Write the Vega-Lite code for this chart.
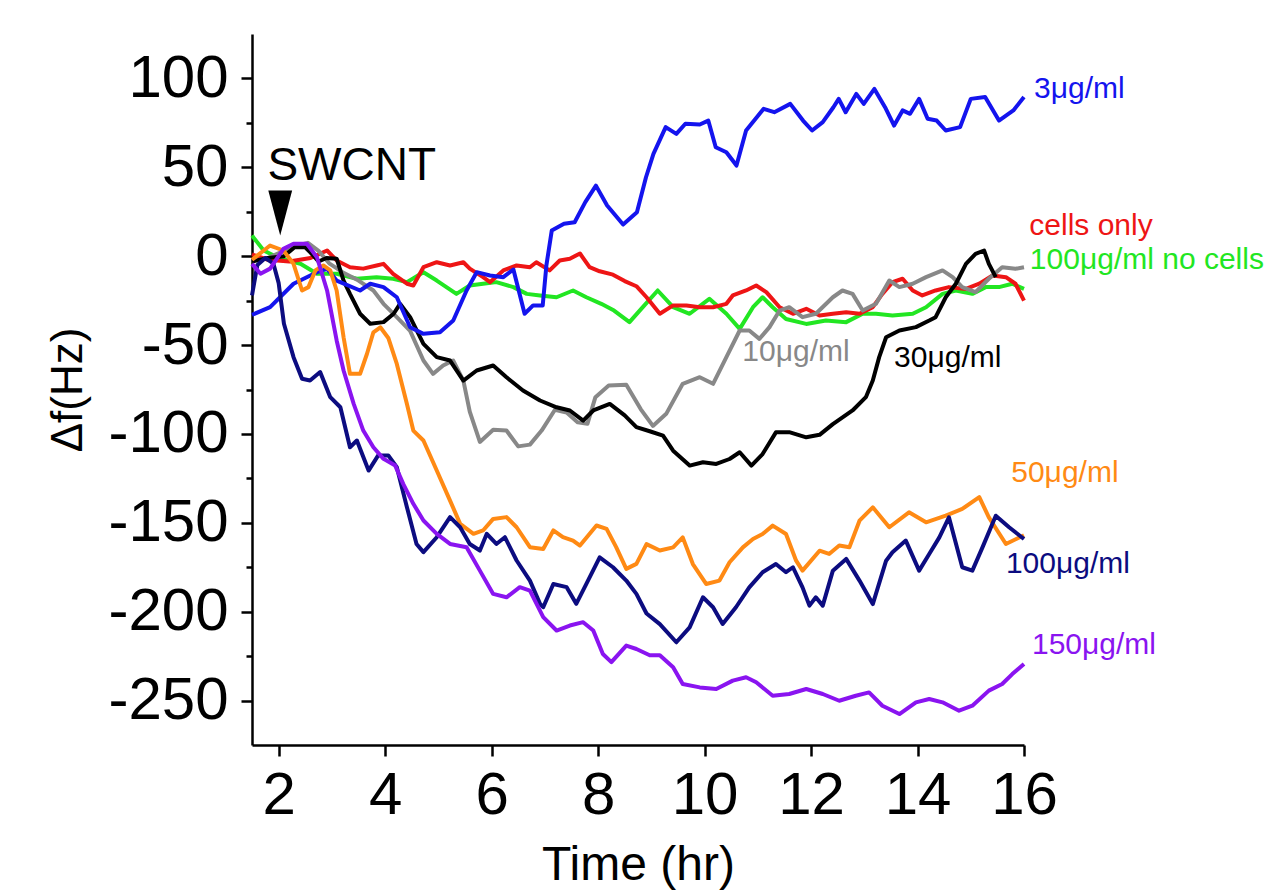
{
  "$schema": "https://vega.github.io/schema/vega-lite/v6.json",
  "width": 772,
  "height": 711,
  "autosize": {"type": "none"},
  "padding": {"left": 252, "top": 34, "right": 258, "bottom": 148},
  "background": "white",
  "config": {"view": {"stroke": null}, "font": "Liberation Sans"},
  "datasets": {
    "series": [
      {"s":"100μg/ml no cells","t":1.5,"v":11.6},{"s":"100μg/ml no cells","t":1.72,"v":3.2},{"s":"100μg/ml no cells","t":2.0,"v":-1},{"s":"100μg/ml no cells","t":2.41,"v":-4.3},{"s":"100μg/ml no cells","t":2.72,"v":-9.9},{"s":"100μg/ml no cells","t":3.09,"v":-9.9},{"s":"100μg/ml no cells","t":3.47,"v":-12.7},{"s":"100μg/ml no cells","t":3.84,"v":-11.8},{"s":"100μg/ml no cells","t":4.15,"v":-12.7},{"s":"100μg/ml no cells","t":4.41,"v":-14.6},{"s":"100μg/ml no cells","t":4.72,"v":-9},{"s":"100μg/ml no cells","t":4.97,"v":-13.7},{"s":"100μg/ml no cells","t":5.34,"v":-21.2},{"s":"100μg/ml no cells","t":5.59,"v":-16.5},{"s":"100μg/ml no cells","t":5.84,"v":-15.5},{"s":"100μg/ml no cells","t":6.09,"v":-14.6},{"s":"100μg/ml no cells","t":6.41,"v":-17.4},{"s":"100μg/ml no cells","t":6.66,"v":-21.2},{"s":"100μg/ml no cells","t":6.91,"v":-22.1},{"s":"100μg/ml no cells","t":7.22,"v":-23.1},{"s":"100μg/ml no cells","t":7.53,"v":-19.3},{"s":"100μg/ml no cells","t":7.78,"v":-23.1},{"s":"100μg/ml no cells","t":8.06,"v":-26.8},{"s":"100μg/ml no cells","t":8.3,"v":-30.6},{"s":"100μg/ml no cells","t":8.59,"v":-37.1},{"s":"100μg/ml no cells","t":8.84,"v":-28.7},{"s":"100μg/ml no cells","t":9.12,"v":-19.3},{"s":"100μg/ml no cells","t":9.41,"v":-28.7},{"s":"100μg/ml no cells","t":9.72,"v":-32.4},{"s":"100μg/ml no cells","t":10.09,"v":-24},{"s":"100μg/ml no cells","t":10.41,"v":-32.4},{"s":"100μg/ml no cells","t":10.66,"v":-40.9},{"s":"100μg/ml no cells","t":10.91,"v":-28.7},{"s":"100μg/ml no cells","t":11.09,"v":-23.1},{"s":"100μg/ml no cells","t":11.28,"v":-28.7},{"s":"100μg/ml no cells","t":11.53,"v":-35.3},{"s":"100μg/ml no cells","t":11.91,"v":-38.1},{"s":"100μg/ml no cells","t":12.28,"v":-36.2},{"s":"100μg/ml no cells","t":12.66,"v":-37.1},{"s":"100μg/ml no cells","t":12.97,"v":-32.4},{"s":"100μg/ml no cells","t":13.22,"v":-32.4},{"s":"100μg/ml no cells","t":13.53,"v":-33.4},{"s":"100μg/ml no cells","t":13.91,"v":-32.4},{"s":"100μg/ml no cells","t":14.16,"v":-28.7},{"s":"100μg/ml no cells","t":14.47,"v":-21.2},{"s":"100μg/ml no cells","t":14.72,"v":-19.3},{"s":"100μg/ml no cells","t":15.03,"v":-21.2},{"s":"100μg/ml no cells","t":15.28,"v":-17.4},{"s":"100μg/ml no cells","t":15.53,"v":-17.4},{"s":"100μg/ml no cells","t":15.78,"v":-15.5},{"s":"100μg/ml no cells","t":16.0,"v":-18.4},

      {"s":"cells only","t":1.5,"v":1},{"s":"cells only","t":1.8,"v":-2},{"s":"cells only","t":2.2,"v":-3},{"s":"cells only","t":2.6,"v":-1},{"s":"cells only","t":2.91,"v":3.2},{"s":"cells only","t":3.09,"v":-2.4},{"s":"cells only","t":3.34,"v":-6.2},{"s":"cells only","t":3.59,"v":-7},{"s":"cells only","t":3.84,"v":-5.2},{"s":"cells only","t":3.97,"v":-4.3},{"s":"cells only","t":4.15,"v":-9.9},{"s":"cells only","t":4.41,"v":-15.5},{"s":"cells only","t":4.53,"v":-16.5},{"s":"cells only","t":4.72,"v":-6.2},{"s":"cells only","t":4.97,"v":-3.4},{"s":"cells only","t":5.22,"v":-5.2},{"s":"cells only","t":5.47,"v":-3.4},{"s":"cells only","t":5.59,"v":-7},{"s":"cells only","t":5.84,"v":-11.8},{"s":"cells only","t":5.97,"v":-14.6},{"s":"cells only","t":6.22,"v":-8},{"s":"cells only","t":6.47,"v":-5.2},{"s":"cells only","t":6.72,"v":-6.2},{"s":"cells only","t":6.84,"v":-3.4},{"s":"cells only","t":7.09,"v":-8},{"s":"cells only","t":7.28,"v":-2.4},{"s":"cells only","t":7.47,"v":-1.4},{"s":"cells only","t":7.66,"v":1.5},{"s":"cells only","t":7.84,"v":-6.2},{"s":"cells only","t":8.03,"v":-8.5},{"s":"cells only","t":8.28,"v":-10.4},{"s":"cells only","t":8.5,"v":-14},{"s":"cells only","t":8.72,"v":-16.9},{"s":"cells only","t":8.91,"v":-23.1},{"s":"cells only","t":9.16,"v":-32.4},{"s":"cells only","t":9.41,"v":-27.7},{"s":"cells only","t":9.66,"v":-27.7},{"s":"cells only","t":9.91,"v":-28.7},{"s":"cells only","t":10.16,"v":-28.7},{"s":"cells only","t":10.41,"v":-26.8},{"s":"cells only","t":10.53,"v":-22.1},{"s":"cells only","t":10.78,"v":-19.3},{"s":"cells only","t":10.97,"v":-16.5},{"s":"cells only","t":11.16,"v":-20.2},{"s":"cells only","t":11.41,"v":-28.7},{"s":"cells only","t":11.66,"v":-32.4},{"s":"cells only","t":11.91,"v":-29.6},{"s":"cells only","t":12.16,"v":-33.4},{"s":"cells only","t":12.41,"v":-32.4},{"s":"cells only","t":12.66,"v":-31.5},{"s":"cells only","t":12.91,"v":-32.4},{"s":"cells only","t":13.16,"v":-28.7},{"s":"cells only","t":13.34,"v":-21.2},{"s":"cells only","t":13.53,"v":-14.6},{"s":"cells only","t":13.72,"v":-12.7},{"s":"cells only","t":13.91,"v":-19.3},{"s":"cells only","t":14.09,"v":-22.1},{"s":"cells only","t":14.34,"v":-19.3},{"s":"cells only","t":14.59,"v":-17.4},{"s":"cells only","t":14.91,"v":-18.4},{"s":"cells only","t":15.16,"v":-15.5},{"s":"cells only","t":15.41,"v":-10.9},{"s":"cells only","t":15.66,"v":-11.8},{"s":"cells only","t":15.84,"v":-15.5},{"s":"cells only","t":16.0,"v":-25},

      {"s":"10μg/ml","t":1.5,"v":-3},{"s":"10μg/ml","t":1.8,"v":-1},{"s":"10μg/ml","t":2.1,"v":3},{"s":"10μg/ml","t":2.35,"v":6},{"s":"10μg/ml","t":2.55,"v":7.5},{"s":"10μg/ml","t":2.75,"v":3},{"s":"10μg/ml","t":2.95,"v":-4},{"s":"10μg/ml","t":3.2,"v":-9},{"s":"10μg/ml","t":3.5,"v":-13.7},{"s":"10μg/ml","t":3.78,"v":-19.3},{"s":"10μg/ml","t":3.97,"v":-26.8},{"s":"10μg/ml","t":4.22,"v":-34.3},{"s":"10μg/ml","t":4.47,"v":-42},{"s":"10μg/ml","t":4.72,"v":-58.7},{"s":"10μg/ml","t":4.9,"v":-66.2},{"s":"10μg/ml","t":5.09,"v":-61.5},{"s":"10μg/ml","t":5.28,"v":-58.7},{"s":"10μg/ml","t":5.47,"v":-70},{"s":"10μg/ml","t":5.59,"v":-87.5},{"s":"10μg/ml","t":5.78,"v":-104.5},{"s":"10μg/ml","t":6.03,"v":-97.6},{"s":"10μg/ml","t":6.28,"v":-98.1},{"s":"10μg/ml","t":6.5,"v":-107},{"s":"10μg/ml","t":6.72,"v":-106},{"s":"10μg/ml","t":6.94,"v":-98.1},{"s":"10μg/ml","t":7.19,"v":-86.4},{"s":"10μg/ml","t":7.41,"v":-88},{"s":"10μg/ml","t":7.62,"v":-93.5},{"s":"10μg/ml","t":7.8,"v":-94.3},{"s":"10μg/ml","t":7.95,"v":-79.3},{"s":"10μg/ml","t":8.2,"v":-72.8},{"s":"10μg/ml","t":8.53,"v":-72.3},{"s":"10μg/ml","t":8.8,"v":-86},{"s":"10μg/ml","t":9.03,"v":-95.5},{"s":"10μg/ml","t":9.28,"v":-88.7},{"s":"10μg/ml","t":9.59,"v":-71.8},{"s":"10μg/ml","t":9.91,"v":-68.1},{"s":"10μg/ml","t":10.16,"v":-71.8},{"s":"10μg/ml","t":10.41,"v":-56.8},{"s":"10μg/ml","t":10.66,"v":-41.8},{"s":"10μg/ml","t":10.84,"v":-41.8},{"s":"10μg/ml","t":11.03,"v":-46.5},{"s":"10μg/ml","t":11.22,"v":-39.9},{"s":"10μg/ml","t":11.41,"v":-30.6},{"s":"10μg/ml","t":11.59,"v":-28.7},{"s":"10μg/ml","t":11.84,"v":-34.3},{"s":"10μg/ml","t":12.09,"v":-32.4},{"s":"10μg/ml","t":12.41,"v":-23.1},{"s":"10μg/ml","t":12.59,"v":-19.3},{"s":"10μg/ml","t":12.78,"v":-21.2},{"s":"10μg/ml","t":12.97,"v":-30.6},{"s":"10μg/ml","t":13.22,"v":-26.8},{"s":"10μg/ml","t":13.47,"v":-13.7},{"s":"10μg/ml","t":13.66,"v":-17.4},{"s":"10μg/ml","t":13.91,"v":-15.5},{"s":"10μg/ml","t":14.16,"v":-11.8},{"s":"10μg/ml","t":14.47,"v":-8},{"s":"10μg/ml","t":14.66,"v":-11.8},{"s":"10μg/ml","t":14.84,"v":-17.4},{"s":"10μg/ml","t":15.09,"v":-20.2},{"s":"10μg/ml","t":15.34,"v":-12.7},{"s":"10μg/ml","t":15.59,"v":-6.2},{"s":"10μg/ml","t":15.84,"v":-7.1},{"s":"10μg/ml","t":16.0,"v":-6.2},

      {"s":"30μg/ml","t":1.5,"v":-3},{"s":"30μg/ml","t":1.8,"v":-1},{"s":"30μg/ml","t":2.1,"v":0},{"s":"30μg/ml","t":2.3,"v":5},{"s":"30μg/ml","t":2.5,"v":5},{"s":"30μg/ml","t":2.6,"v":2},{"s":"30μg/ml","t":2.75,"v":-3},{"s":"30μg/ml","t":2.9,"v":-1},{"s":"30μg/ml","t":3.09,"v":-1.4},{"s":"30μg/ml","t":3.22,"v":-13.7},{"s":"30μg/ml","t":3.34,"v":-21.2},{"s":"30μg/ml","t":3.53,"v":-32.4},{"s":"30μg/ml","t":3.72,"v":-38},{"s":"30μg/ml","t":3.97,"v":-37.1},{"s":"30μg/ml","t":4.16,"v":-32.4},{"s":"30μg/ml","t":4.28,"v":-26.8},{"s":"30μg/ml","t":4.47,"v":-34.3},{"s":"30μg/ml","t":4.72,"v":-49.3},{"s":"30μg/ml","t":4.97,"v":-56.8},{"s":"30μg/ml","t":5.22,"v":-58.7},{"s":"30μg/ml","t":5.47,"v":-70},{"s":"30μg/ml","t":5.72,"v":-64.3},{"s":"30μg/ml","t":6.03,"v":-61.5},{"s":"30μg/ml","t":6.28,"v":-68.1},{"s":"30μg/ml","t":6.59,"v":-75.6},{"s":"30μg/ml","t":6.91,"v":-81.2},{"s":"30μg/ml","t":7.22,"v":-85},{"s":"30μg/ml","t":7.47,"v":-86.8},{"s":"30μg/ml","t":7.72,"v":-92.5},{"s":"30μg/ml","t":7.91,"v":-86.8},{"s":"30μg/ml","t":8.22,"v":-83.1},{"s":"30μg/ml","t":8.5,"v":-89.6},{"s":"30μg/ml","t":8.72,"v":-96.2},{"s":"30μg/ml","t":8.97,"v":-98.5},{"s":"30μg/ml","t":9.22,"v":-101},{"s":"30μg/ml","t":9.41,"v":-109.4},{"s":"30μg/ml","t":9.72,"v":-117.8},{"s":"30μg/ml","t":9.97,"v":-115.9},{"s":"30μg/ml","t":10.22,"v":-116.9},{"s":"30μg/ml","t":10.47,"v":-114.1},{"s":"30μg/ml","t":10.66,"v":-110.3},{"s":"30μg/ml","t":10.88,"v":-117.8},{"s":"30μg/ml","t":11.09,"v":-111.3},{"s":"30μg/ml","t":11.34,"v":-99.1},{"s":"30μg/ml","t":11.59,"v":-99},{"s":"30μg/ml","t":11.91,"v":-101.9},{"s":"30μg/ml","t":12.16,"v":-100.5},{"s":"30μg/ml","t":12.41,"v":-94.5},{"s":"30μg/ml","t":12.78,"v":-86.8},{"s":"30μg/ml","t":13.03,"v":-79.3},{"s":"30μg/ml","t":13.16,"v":-69.9},{"s":"30μg/ml","t":13.28,"v":-56.8},{"s":"30μg/ml","t":13.41,"v":-45.6},{"s":"30μg/ml","t":13.66,"v":-41.8},{"s":"30μg/ml","t":13.97,"v":-39.9},{"s":"30μg/ml","t":14.22,"v":-36.2},{"s":"30μg/ml","t":14.34,"v":-34.3},{"s":"30μg/ml","t":14.53,"v":-23.1},{"s":"30μg/ml","t":14.72,"v":-15.5},{"s":"30μg/ml","t":14.91,"v":-4.3},{"s":"30μg/ml","t":15.09,"v":1.3},{"s":"30μg/ml","t":15.25,"v":3.2},{"s":"30μg/ml","t":15.34,"v":-4.3},{"s":"30μg/ml","t":15.47,"v":-11.8},

      {"s":"3μg/ml","t":1.5,"v":-33},{"s":"3μg/ml","t":1.84,"v":-28.7},{"s":"3μg/ml","t":2.28,"v":-15.5},{"s":"3μg/ml","t":2.72,"v":-9},{"s":"3μg/ml","t":2.91,"v":-7.1},{"s":"3μg/ml","t":3.09,"v":-13.7},{"s":"3μg/ml","t":3.53,"v":-19.3},{"s":"3μg/ml","t":3.72,"v":-15.5},{"s":"3μg/ml","t":3.97,"v":-17.4},{"s":"3μg/ml","t":4.22,"v":-23.1},{"s":"3μg/ml","t":4.47,"v":-40},{"s":"3μg/ml","t":4.72,"v":-43.7},{"s":"3μg/ml","t":5.03,"v":-42.8},{"s":"3μg/ml","t":5.28,"v":-36.2},{"s":"3μg/ml","t":5.53,"v":-19.3},{"s":"3μg/ml","t":5.72,"v":-9},{"s":"3μg/ml","t":5.97,"v":-10.9},{"s":"3μg/ml","t":6.22,"v":-11.8},{"s":"3μg/ml","t":6.41,"v":-7.5},{"s":"3μg/ml","t":6.62,"v":-32.4},{"s":"3μg/ml","t":6.78,"v":-27.7},{"s":"3μg/ml","t":6.96,"v":-27.8},{"s":"3μg/ml","t":7.03,"v":-5},{"s":"3μg/ml","t":7.13,"v":14.4},{"s":"3μg/ml","t":7.36,"v":18.2},{"s":"3μg/ml","t":7.56,"v":19.1},{"s":"3μg/ml","t":7.76,"v":30.4},{"s":"3μg/ml","t":7.96,"v":39.7},{"s":"3μg/ml","t":8.17,"v":28.5},{"s":"3μg/ml","t":8.47,"v":17.8},{"s":"3μg/ml","t":8.73,"v":24.7},{"s":"3μg/ml","t":8.9,"v":44.4},{"s":"3μg/ml","t":9.04,"v":57.6},{"s":"3μg/ml","t":9.27,"v":72.6},{"s":"3μg/ml","t":9.47,"v":68.8},{"s":"3μg/ml","t":9.64,"v":74.5},{"s":"3μg/ml","t":9.91,"v":74.1},{"s":"3μg/ml","t":10.07,"v":76.3},{"s":"3μg/ml","t":10.21,"v":61.3},{"s":"3μg/ml","t":10.41,"v":58.5},{"s":"3μg/ml","t":10.6,"v":51},{"s":"3μg/ml","t":10.78,"v":70.7},{"s":"3μg/ml","t":11.11,"v":82.9},{"s":"3μg/ml","t":11.31,"v":81},{"s":"3μg/ml","t":11.61,"v":85.7},{"s":"3μg/ml","t":11.85,"v":76.3},{"s":"3μg/ml","t":12.02,"v":70.7},{"s":"3μg/ml","t":12.22,"v":75.4},{"s":"3μg/ml","t":12.42,"v":83.8},{"s":"3μg/ml","t":12.52,"v":88.5},{"s":"3μg/ml","t":12.65,"v":81},{"s":"3μg/ml","t":12.85,"v":91.3},{"s":"3μg/ml","t":12.99,"v":85.7},{"s":"3μg/ml","t":13.19,"v":94.1},{"s":"3μg/ml","t":13.39,"v":83.8},{"s":"3μg/ml","t":13.56,"v":73.5},{"s":"3μg/ml","t":13.72,"v":82},{"s":"3μg/ml","t":13.86,"v":80.1},{"s":"3μg/ml","t":14.03,"v":88.5},{"s":"3μg/ml","t":14.19,"v":77.3},{"s":"3μg/ml","t":14.36,"v":76.3},{"s":"3μg/ml","t":14.53,"v":70.7},{"s":"3μg/ml","t":14.8,"v":72.6},{"s":"3μg/ml","t":15.0,"v":88.5},{"s":"3μg/ml","t":15.27,"v":89.5},{"s":"3μg/ml","t":15.53,"v":76.3},{"s":"3μg/ml","t":15.8,"v":82},{"s":"3μg/ml","t":16.0,"v":89.5},

      {"s":"50μg/ml","t":1.5,"v":-2},{"s":"50μg/ml","t":1.72,"v":3.2},{"s":"50μg/ml","t":1.84,"v":6},{"s":"50μg/ml","t":2.09,"v":3.2},{"s":"50μg/ml","t":2.28,"v":-4.3},{"s":"50μg/ml","t":2.44,"v":-19.3},{"s":"50μg/ml","t":2.56,"v":-17.4},{"s":"50μg/ml","t":2.69,"v":-8},{"s":"50μg/ml","t":2.84,"v":-5.2},{"s":"50μg/ml","t":2.97,"v":-8},{"s":"50μg/ml","t":3.09,"v":-19.3},{"s":"50μg/ml","t":3.22,"v":-45.6},{"s":"50μg/ml","t":3.34,"v":-66.2},{"s":"50μg/ml","t":3.53,"v":-66.2},{"s":"50μg/ml","t":3.66,"v":-54.9},{"s":"50μg/ml","t":3.78,"v":-42.8},{"s":"50μg/ml","t":3.91,"v":-40},{"s":"50μg/ml","t":4.06,"v":-46},{"s":"50μg/ml","t":4.22,"v":-60.6},{"s":"50μg/ml","t":4.41,"v":-83.1},{"s":"50μg/ml","t":4.53,"v":-98.1},{"s":"50μg/ml","t":4.72,"v":-103.7},{"s":"50μg/ml","t":4.97,"v":-120.6},{"s":"50μg/ml","t":5.22,"v":-137.5},{"s":"50μg/ml","t":5.41,"v":-150.6},{"s":"50μg/ml","t":5.66,"v":-156.2},{"s":"50μg/ml","t":5.84,"v":-154.3},{"s":"50μg/ml","t":6.03,"v":-147.8},{"s":"50μg/ml","t":6.28,"v":-146.8},{"s":"50μg/ml","t":6.47,"v":-152.5},{"s":"50μg/ml","t":6.72,"v":-163.7},{"s":"50μg/ml","t":6.97,"v":-164.7},{"s":"50μg/ml","t":7.16,"v":-154.3},{"s":"50μg/ml","t":7.34,"v":-158.1},{"s":"50μg/ml","t":7.53,"v":-160},{"s":"50μg/ml","t":7.66,"v":-162.8},{"s":"50μg/ml","t":7.97,"v":-151.5},{"s":"50μg/ml","t":8.16,"v":-153.4},{"s":"50μg/ml","t":8.34,"v":-163.7},{"s":"50μg/ml","t":8.53,"v":-175.9},{"s":"50μg/ml","t":8.72,"v":-173.1},{"s":"50μg/ml","t":8.91,"v":-162},{"s":"50μg/ml","t":9.16,"v":-165.6},{"s":"50μg/ml","t":9.41,"v":-163.8},{"s":"50μg/ml","t":9.59,"v":-158.2},{"s":"50μg/ml","t":9.78,"v":-173.2},{"s":"50μg/ml","t":10.03,"v":-184.4},{"s":"50μg/ml","t":10.28,"v":-182.5},{"s":"50μg/ml","t":10.47,"v":-172.2},{"s":"50μg/ml","t":10.72,"v":-163.8},{"s":"50μg/ml","t":10.91,"v":-159.1},{"s":"50μg/ml","t":11.09,"v":-156.3},{"s":"50μg/ml","t":11.28,"v":-151.6},{"s":"50μg/ml","t":11.53,"v":-156.3},{"s":"50μg/ml","t":11.72,"v":-171.3},{"s":"50μg/ml","t":11.84,"v":-176.9},{"s":"50μg/ml","t":12.16,"v":-165.7},{"s":"50μg/ml","t":12.34,"v":-167.5},{"s":"50μg/ml","t":12.53,"v":-162.8},{"s":"50μg/ml","t":12.72,"v":-163.8},{"s":"50μg/ml","t":12.91,"v":-148.8},{"s":"50μg/ml","t":13.16,"v":-141.3},{"s":"50μg/ml","t":13.47,"v":-152.5},{"s":"50μg/ml","t":13.84,"v":-144.1},{"s":"50μg/ml","t":14.16,"v":-149.7},{"s":"50μg/ml","t":14.53,"v":-146},{"s":"50μg/ml","t":14.84,"v":-142.2},{"s":"50μg/ml","t":15.16,"v":-135.6},{"s":"50μg/ml","t":15.34,"v":-146.9},{"s":"50μg/ml","t":15.66,"v":-161.9},{"s":"50μg/ml","t":16.0,"v":-157},

      {"s":"100μg/ml","t":1.5,"v":-22},{"s":"100μg/ml","t":1.6,"v":-5},{"s":"100μg/ml","t":1.75,"v":-1},{"s":"100μg/ml","t":1.9,"v":-4},{"s":"100μg/ml","t":2.0,"v":-15},{"s":"100μg/ml","t":2.1,"v":-38},{"s":"100μg/ml","t":2.28,"v":-56.8},{"s":"100μg/ml","t":2.44,"v":-69},{"s":"100μg/ml","t":2.59,"v":-69.9},{"s":"100μg/ml","t":2.78,"v":-65.2},{"s":"100μg/ml","t":2.97,"v":-79.3},{"s":"100μg/ml","t":3.16,"v":-85},{"s":"100μg/ml","t":3.34,"v":-107.5},{"s":"100μg/ml","t":3.47,"v":-103.7},{"s":"100μg/ml","t":3.69,"v":-120.6},{"s":"100μg/ml","t":3.87,"v":-112.1},{"s":"100μg/ml","t":4.06,"v":-112.1},{"s":"100μg/ml","t":4.22,"v":-118.7},{"s":"100μg/ml","t":4.41,"v":-141.2},{"s":"100μg/ml","t":4.59,"v":-161.9},{"s":"100μg/ml","t":4.72,"v":-166.5},{"s":"100μg/ml","t":4.97,"v":-158.1},{"s":"100μg/ml","t":5.22,"v":-146.8},{"s":"100μg/ml","t":5.41,"v":-152.5},{"s":"100μg/ml","t":5.59,"v":-161.9},{"s":"100μg/ml","t":5.78,"v":-165.6},{"s":"100μg/ml","t":5.91,"v":-156.2},{"s":"100μg/ml","t":6.09,"v":-161.9},{"s":"100μg/ml","t":6.25,"v":-158.1},{"s":"100μg/ml","t":6.47,"v":-171.2},{"s":"100μg/ml","t":6.72,"v":-182.5},{"s":"100μg/ml","t":6.91,"v":-195.6},{"s":"100μg/ml","t":6.97,"v":-197.5},{"s":"100μg/ml","t":7.16,"v":-184.4},{"s":"100μg/ml","t":7.41,"v":-186.2},{"s":"100μg/ml","t":7.59,"v":-195.6},{"s":"100μg/ml","t":7.78,"v":-184.4},{"s":"100μg/ml","t":8.03,"v":-169.4},{"s":"100μg/ml","t":8.28,"v":-175},{"s":"100μg/ml","t":8.53,"v":-182.5},{"s":"100μg/ml","t":8.72,"v":-190},{"s":"100μg/ml","t":8.91,"v":-201},{"s":"100μg/ml","t":9.16,"v":-207},{"s":"100μg/ml","t":9.47,"v":-217.2},{"s":"100μg/ml","t":9.72,"v":-208.8},{"s":"100μg/ml","t":9.97,"v":-191.9},{"s":"100μg/ml","t":10.16,"v":-197.5},{"s":"100μg/ml","t":10.34,"v":-206.9},{"s":"100μg/ml","t":10.59,"v":-197.5},{"s":"100μg/ml","t":10.84,"v":-186.3},{"s":"100μg/ml","t":11.09,"v":-177.8},{"s":"100μg/ml","t":11.34,"v":-173.2},{"s":"100μg/ml","t":11.53,"v":-177.8},{"s":"100μg/ml","t":11.66,"v":-175},{"s":"100μg/ml","t":11.84,"v":-186.3},{"s":"100μg/ml","t":11.97,"v":-196.6},{"s":"100μg/ml","t":12.09,"v":-191.9},{"s":"100μg/ml","t":12.22,"v":-196.6},{"s":"100μg/ml","t":12.41,"v":-176.9},{"s":"100μg/ml","t":12.66,"v":-170.3},{"s":"100μg/ml","t":12.91,"v":-182.5},{"s":"100μg/ml","t":13.16,"v":-195.7},{"s":"100μg/ml","t":13.41,"v":-171.3},{"s":"100μg/ml","t":13.53,"v":-166.6},{"s":"100μg/ml","t":13.78,"v":-160},{"s":"100μg/ml","t":14.03,"v":-176.9},{"s":"100μg/ml","t":14.22,"v":-167.5},{"s":"100μg/ml","t":14.41,"v":-158.2},{"s":"100μg/ml","t":14.59,"v":-146.9},{"s":"100μg/ml","t":14.84,"v":-175},{"s":"100μg/ml","t":15.03,"v":-176.9},{"s":"100μg/ml","t":15.22,"v":-163.8},{"s":"100μg/ml","t":15.47,"v":-146},{"s":"100μg/ml","t":15.72,"v":-152.5},{"s":"100μg/ml","t":16.0,"v":-159.1},

      {"s":"150μg/ml","t":1.5,"v":-4.3},{"s":"150μg/ml","t":1.66,"v":-9.9},{"s":"150μg/ml","t":1.84,"v":-7},{"s":"150μg/ml","t":2.09,"v":4.1},{"s":"150μg/ml","t":2.28,"v":7},{"s":"150μg/ml","t":2.53,"v":7},{"s":"150μg/ml","t":2.72,"v":-0.6},{"s":"150μg/ml","t":2.91,"v":-19.3},{"s":"150μg/ml","t":3.09,"v":-47.4},{"s":"150μg/ml","t":3.22,"v":-64.3},{"s":"150μg/ml","t":3.41,"v":-83.1},{"s":"150μg/ml","t":3.59,"v":-98.1},{"s":"150μg/ml","t":3.78,"v":-107.5},{"s":"150μg/ml","t":3.97,"v":-114},{"s":"150μg/ml","t":4.19,"v":-117.8},{"s":"150μg/ml","t":4.34,"v":-128.1},{"s":"150μg/ml","t":4.53,"v":-139.3},{"s":"150μg/ml","t":4.72,"v":-148.7},{"s":"150μg/ml","t":4.97,"v":-156.2},{"s":"150μg/ml","t":5.22,"v":-161.9},{"s":"150μg/ml","t":5.53,"v":-163.7},{"s":"150μg/ml","t":5.78,"v":-176.9},{"s":"150μg/ml","t":6.03,"v":-190},{"s":"150μg/ml","t":6.28,"v":-191.9},{"s":"150μg/ml","t":6.53,"v":-186.2},{"s":"150μg/ml","t":6.72,"v":-188.1},{"s":"150μg/ml","t":6.97,"v":-203.1},{"s":"150μg/ml","t":7.22,"v":-210.6},{"s":"150μg/ml","t":7.47,"v":-207.8},{"s":"150μg/ml","t":7.72,"v":-205.9},{"s":"150μg/ml","t":7.91,"v":-210.6},{"s":"150μg/ml","t":8.09,"v":-223.8},{"s":"150μg/ml","t":8.25,"v":-228.4},{"s":"150μg/ml","t":8.53,"v":-219.1},{"s":"150μg/ml","t":8.72,"v":-221},{"s":"150μg/ml","t":8.97,"v":-224.5},{"s":"150μg/ml","t":9.16,"v":-224.5},{"s":"150μg/ml","t":9.41,"v":-231.3},{"s":"150μg/ml","t":9.59,"v":-240.7},{"s":"150μg/ml","t":9.91,"v":-242.6},{"s":"150μg/ml","t":10.22,"v":-243.5},{"s":"150μg/ml","t":10.53,"v":-238.8},{"s":"150μg/ml","t":10.78,"v":-236.9},{"s":"150μg/ml","t":10.97,"v":-239.7},{"s":"150μg/ml","t":11.28,"v":-247.3},{"s":"150μg/ml","t":11.59,"v":-246.3},{"s":"150μg/ml","t":11.91,"v":-243.5},{"s":"150μg/ml","t":12.22,"v":-246.3},{"s":"150μg/ml","t":12.53,"v":-250.1},{"s":"150μg/ml","t":12.84,"v":-247.3},{"s":"150μg/ml","t":13.09,"v":-245.4},{"s":"150μg/ml","t":13.34,"v":-252.9},{"s":"150μg/ml","t":13.66,"v":-257.6},{"s":"150μg/ml","t":13.97,"v":-251},{"s":"150μg/ml","t":14.22,"v":-249.1},{"s":"150μg/ml","t":14.47,"v":-251},{"s":"150μg/ml","t":14.78,"v":-255.7},{"s":"150μg/ml","t":15.03,"v":-252.9},{"s":"150μg/ml","t":15.34,"v":-244.4},{"s":"150μg/ml","t":15.59,"v":-240.7},{"s":"150μg/ml","t":15.78,"v":-235.1},{"s":"150μg/ml","t":16.0,"v":-229.4}
    ],
    "labels": [
      {"s":"3μg/ml","t":16.19,"v":94},
      {"s":"cells only","t":16.1,"v":17},
      {"s":"100μg/ml no cells","t":16.11,"v":-2},
      {"s":"10μg/ml","t":10.71,"v":-54},
      {"s":"30μg/ml","t":13.56,"v":-57},
      {"s":"50μg/ml","t":15.76,"v":-122},
      {"s":"100μg/ml","t":15.66,"v":-173},
      {"s":"150μg/ml","t":16.15,"v":-219}
    ],
    "marker": [
      {"text":"SWCNT","t":1.79,"v":50.5,"tt":2.03,"tv":24.3}
    ]
  },
  "encoding": {
    "x": {
      "field": "t", "type": "quantitative",
      "scale": {"domain": [1.5, 16], "nice": false, "zero": false},
      "axis": {
        "values": [2, 4, 6, 8, 10, 12, 14, 16],
        "title": "Time (hr)",
        "grid": false,
        "domainColor": "black", "domainWidth": 2.5,
        "tickColor": "black", "tickWidth": 2.5, "tickSize": 11,
        "labelFontSize": 60, "labelColor": "black", "labelPadding": 10,
        "labelFlush": false, "labelOverlap": false,
        "titleFontSize": 48, "titleFontWeight": "normal", "titleColor": "black", "titlePadding": 16
      }
    },
    "y": {
      "field": "v", "type": "quantitative",
      "scale": {"domain": [-275, 125], "nice": false, "zero": false},
      "axis": {
        "values": [-250, -225, -200, -175, -150, -125, -100, -75, -50, -25, 0, 25, 50, 75, 100],
        "labelExpr": "datum.value % 50 == 0 ? '' + datum.value : ''",
        "title": "Δf(Hz)",
        "grid": false,
        "domainColor": "black", "domainWidth": 2.5,
        "tickColor": "black", "tickWidth": 2.5,
        "tickSize": {"condition": {"test": "datum.value % 50 == 0", "value": 11}, "value": 6},
        "labelFontSize": 60, "labelColor": "black", "labelPadding": 13,
        "labelFlush": false, "labelOverlap": false,
        "titleFontSize": 44, "titleFontWeight": "normal", "titleColor": "black", "titlePadding": 17
      }
    }
  },
  "layer": [
    {
      "data": {"name": "series"},
      "mark": {"type": "line", "strokeWidth": 4, "strokeJoin": "round"},
      "encoding": {
        "color": {
          "field": "s", "type": "nominal", "legend": null,
          "scale": {
            "domain": ["100μg/ml no cells", "cells only", "10μg/ml", "30μg/ml", "3μg/ml", "50μg/ml", "100μg/ml", "150μg/ml"],
            "range": ["#22E622", "#EE1515", "#888888", "#000000", "#1414EE", "#FF8A14", "#0C0C80", "#8A14F0"]
          }
        },
        "order": {"field": "t", "type": "quantitative"}
      }
    },
    {
      "data": {"name": "labels"},
      "mark": {"type": "text", "align": "left", "baseline": "middle", "fontSize": 30},
      "encoding": {
        "text": {"field": "s"},
        "color": {"field": "s", "type": "nominal", "legend": null}
      }
    },
    {
      "data": {"name": "marker"},
      "mark": {"type": "text", "align": "left", "baseline": "middle", "fontSize": 46, "color": "black"},
      "encoding": {"text": {"field": "text"}}
    },
    {
      "data": {"name": "marker"},
      "mark": {"type": "point", "shape": "M-0.53,-1L0.53,-1L0,1Z", "size": 2025, "filled": true, "color": "black", "opacity": 1},
      "encoding": {
        "x": {"field": "tt", "type": "quantitative"},
        "y": {"field": "tv", "type": "quantitative"}
      }
    }
  ]
}
